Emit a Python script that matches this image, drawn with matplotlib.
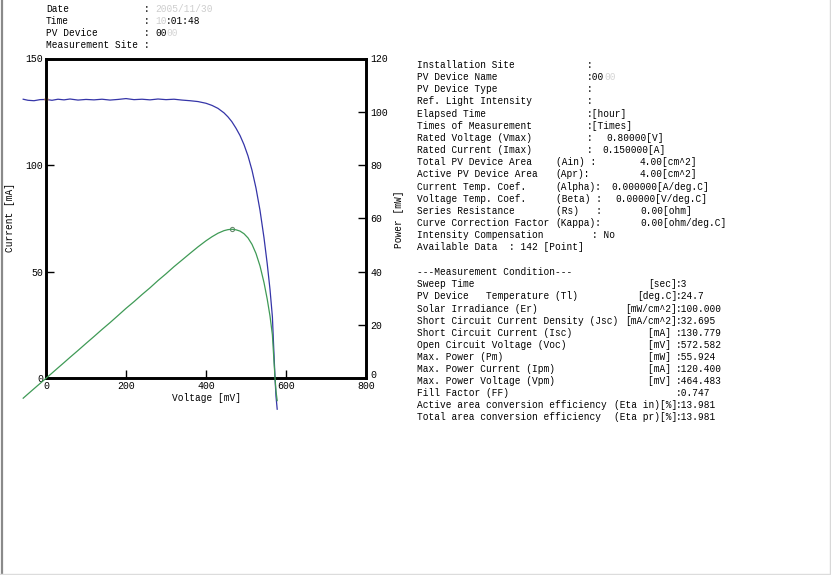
import matplotlib
matplotlib.use("Agg")
import matplotlib.pyplot as plt
from matplotlib.lines import Line2D

W, H = 831, 575
FONT = "Liberation Mono"
FS = 6.85
plt.rcParams['font.family'] = [FONT, 'DejaVu Sans Mono']

# ---- data ----
voltage_mV = [-57, -45, -30, -15, 0, 15, 30, 45, 60, 80, 100, 120, 140, 160, 180,
              200, 220, 240, 260, 280, 300, 320, 340, 360, 380, 400, 415, 430, 445,
              455, 464.5, 475, 485, 495, 505, 515, 525, 535, 545, 553, 560, 566,
              569, 572.6, 575, 578]
current_mA = [130.9, 130.4, 130.2, 130.7, 130.8, 130.4, 130.9, 130.6, 131.0, 130.5,
              130.8, 130.6, 130.9, 130.5, 130.8, 131.2, 130.7, 130.9, 130.6, 131.0,
              130.7, 130.9, 130.5, 130.2, 129.8, 129.0, 128.0, 126.6, 124.5, 122.6,
              120.4, 117.3, 113.9, 109.6, 104.3, 97.6, 89.2, 78.8, 65.9, 53.8, 41.7,
              28.8, 15.5, 0.0, -8.5, -14.5]
power_mW = [v * i / 1000.0 for v, i in zip(voltage_mV, current_mA)]
pmax_point = (464.483, 55.924)
isc_point = (0, 130.779)

x_ticks = [0, 200, 400, 600, 800]
y_left_ticks = [0, 50, 100, 150]
y_right_ticks = [0, 20, 40, 60, 80, 100, 120]

header_labels = ["Date", "Time", "PV Device", "Measurement Site"]

info_rows = [
    ("Installation Site", None, ":", ""),
    ("PV Device Name", None, ":00", ""),
    ("PV Device Type", None, ":", ""),
    ("Ref. Light Intensity", None, ":", ""),
    ("Elapsed Time", None, ":[hour]", ""),
    ("Times of Measurement", None, ":[Times]", ""),
    ("Rated Voltage (Vmax)", None, ":", "0.80000[V]"),
    ("Rated Current (Imax)", None, ":", "0.150000[A]"),
    ("Total PV Device Area", "(Ain) :", None, "4.00[cm^2]"),
    ("Active PV Device Area", "(Apr):", None, "4.00[cm^2]"),
    ("Current Temp. Coef.", "(Alpha):", None, "0.000000[A/deg.C]"),
    ("Voltage Temp. Coef.", "(Beta) :", None, "0.00000[V/deg.C]"),
    ("Series Resistance", "(Rs)   :", None, "0.00[ohm]"),
    ("Curve Correction Factor", "(Kappa):", None, "0.00[ohm/deg.C]"),
]
info_value_x = [None, None, None, None, None, None, 606, 602, 640, 640, 611, 615, 640, 640]

cond_rows = [
    ("Sweep Time", "[sec]", "3"),
    ("PV Device   Temperature (Tl)", "[deg.C]", "24.7"),
    ("Solar Irradiance (Er)", "[mW/cm^2]", "100.000"),
    ("Short Circuit Current Density (Jsc)", "[mA/cm^2]", "32.695"),
    ("Short Circuit Current (Isc)", "[mA] ", "130.779"),
    ("Open Circuit Voltage (Voc)", "[mV] ", "572.582"),
    ("Max. Power (Pm)", "[mW] ", "55.924"),
    ("Max. Power Current (Ipm)", "[mA] ", "120.400"),
    ("Max. Power Voltage (Vpm)", "[mV] ", "464.483"),
    ("Fill Factor (FF)", "", "0.747"),
    ("Active area conversion efficiency", "(Eta in)[%]", "13.981"),
    ("Total area conversion efficiency", "(Eta pr)[%]", "13.981"),
]


def fx(x):
    return x / W


def fy(y):
    return 1 - y / H


fig = plt.figure(figsize=(W / 100, H / 100), dpi=100)
fig.patch.set_facecolor("white")


def txt(x, y, s, ha="left", color="black", **kw):
    fig.text(fx(x), fy(y), s, ha=ha, va="center", fontsize=FS, color=color,
             family=[FONT, 'DejaVu Sans Mono'], **kw)


# ---- plot ----
ax = fig.add_axes([fx(46), fy(378.3), 320 / W, 319.8 / H])
ax2 = ax.twinx()
ax.set_xlim(0, 800)
ax.set_ylim(0, 150)
ax2.set_ylim(0, 120)
for a in (ax, ax2):
    for sp in a.spines.values():
        sp.set_linewidth(1.9)
        sp.set_color("black")
ax.set_xticks(x_ticks)
ax.set_xticklabels([str(t) for t in x_ticks])
ax.set_yticks(y_left_ticks)
ax.set_yticklabels([str(t) for t in y_left_ticks])
ax2.set_yticks(y_right_ticks)
ax2.set_yticklabels([str(t) for t in y_right_ticks])
ax.tick_params(axis="both", direction="in", length=6, width=1.0, labelsize=FS + 0.3, pad=2)
ax2.tick_params(axis="y", direction="in", length=6, width=1.0, labelsize=FS + 0.3, pad=3)
for lab in ax.get_xticklabels() + ax.get_yticklabels() + ax2.get_yticklabels():
    lab.set_family([FONT, 'DejaVu Sans Mono'])
ax2.get_yticklabels()[0].set_va("baseline")

ax.plot(voltage_mV, current_mA, color="#3535a8", lw=0.9, clip_on=False, zorder=3)
ax2.plot(voltage_mV, power_mW, color="#3f9a56", lw=0.9, clip_on=False, zorder=3)
ax2.plot([pmax_point[0]], [pmax_point[1]], marker="o", ms=3, mfc="none",
         mec="#6a8a70", mew=0.8, clip_on=False)
ax.plot([isc_point[0]], [isc_point[1]], marker="o", ms=2, color="#d9925a",
        clip_on=False, zorder=4)

txt(206, 398, "Voltage [mV]", ha="center")
fig.text(fx(10), fy(217), "Current [mA]", rotation=90, ha="center", va="center",
         fontsize=FS, family=[FONT, 'DejaVu Sans Mono'])
fig.text(fx(399.5), fy(219), "Power [mW]", rotation=90, ha="center", va="center",
         fontsize=FS, family=[FONT, 'DejaVu Sans Mono'])

# ---- header ----
hy = [8.7, 20.7, 33, 45]
for lab, y in zip(header_labels, hy):
    txt(46, y, lab)
for y in hy:
    txt(144, y, ":")
txt(155, 8.7, "2005/11/30", color="#cdcdcd")
txt(155, 20.7, "10", color="#cdcdcd")
txt(166, 20.7, ":01:48")
txt(155, 33, "00")
txt(166, 33, "00", color="#d4d4d4")

# ---- right info panel ----
y0, dy = 65, 12.15
for k, (lab, mid, colon, val) in enumerate(info_rows):
    y = y0 + k * dy
    txt(417, y, lab)
    if mid is not None:
        txt(555.7, y, mid)
    if colon is not None:
        txt(587, y, colon)
        if colon == ":00":
            txt(604, y, "00", color="#d4d4d4")
    if val:
        txt(info_value_x[k], y, val)
yi = y0 + len(info_rows) * dy
txt(417, yi, "Intensity Compensation")
txt(592, yi, ": No")
txt(417, yi + dy, "Available Data  : 142 [Point]")

yc0 = 272.3
COLX = 677
txt(417, yc0, "---Measurement Condition---")
for k, (lab, unit, val) in enumerate(cond_rows):
    y = yc0 + (k + 1) * 12.09
    txt(417, y, lab)
    if unit:
        txt(COLX, y, unit, ha="right")
    txt(COLX - 1, y, ":" + val)

# ---- window border ----
fig.add_artist(Line2D([fx(1.5), fx(1.5)], [0, 1], transform=fig.transFigure,
                      color="#8a8a8a", lw=1.6))
fig.add_artist(Line2D([fx(829.5), fx(829.5)], [0, 1], transform=fig.transFigure,
                      color="#d8d8d8", lw=1.0))
fig.add_artist(Line2D([0, 1], [fy(573.5), fy(573.5)], transform=fig.transFigure,
                      color="#dcdcdc", lw=1.0))

fig.savefig("out.png", dpi=100, facecolor="white")
